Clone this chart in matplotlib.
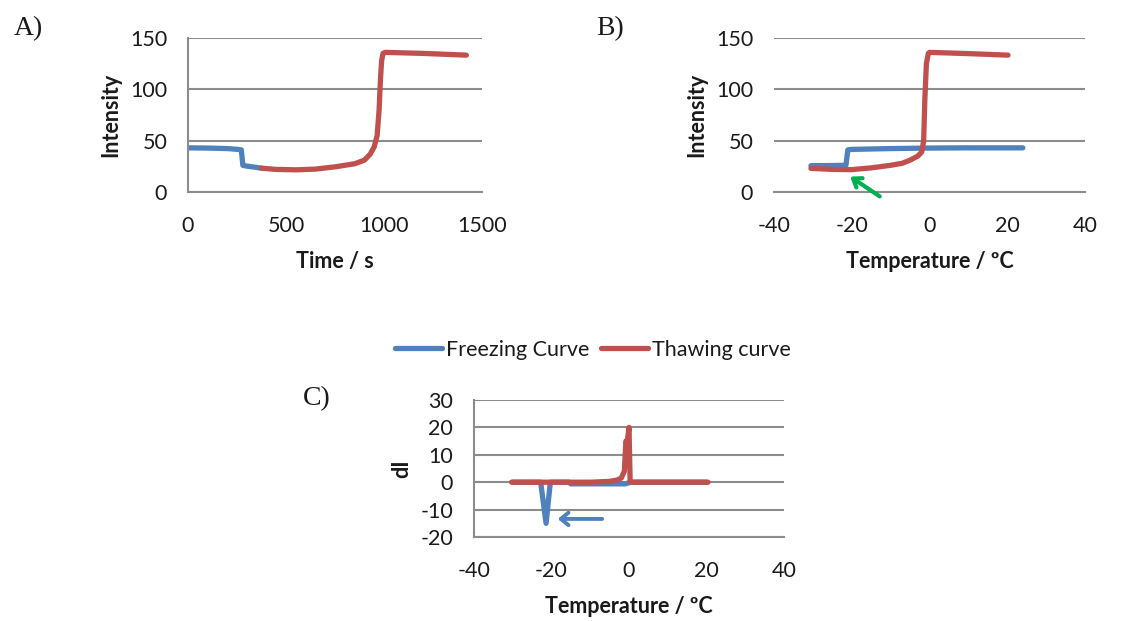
import numpy as np
import matplotlib
matplotlib.use("Agg")
import matplotlib.pyplot as plt

plt.rcParams['font.family'] = ['Lato', 'DejaVu Sans']
plt.rcParams['axes.unicode_minus'] = False

BLUE = '#4F81BD'
RED = '#C0504D'
GREEN = '#00B050'
GRID = '#8c8c8c'
TXT = '#1a1a1a'

# A) intensity vs time
a_freeze_time = [0, 100, 200, 255, 272, 280, 300, 340, 375]
a_freeze_int = [43, 42.8, 42.3, 41.5, 41, 26, 25.2, 24.2, 23.2]
a_thaw_time = [375, 450, 550, 650, 750, 850, 900, 930, 950, 965, 975, 982, 988, 995, 1005, 1200, 1420]
a_thaw_int = [23.2, 22.0, 21.6, 22.3, 24.5, 27.5, 31, 37, 44, 55, 80, 110, 128, 135, 136, 135, 133.3]

# B) intensity vs temperature
b_freeze_temp = [-30.5, -25, -21.5, -21, -20, -10, 0, 10, 24]
b_freeze_int = [25.6, 25.8, 26, 41, 41.5, 42.3, 42.8, 43, 43]
b_thaw_temp = [-30.5, -25, -20, -15, -10, -7, -5, -3, -2, -1.5, -1.2, -0.8, -0.3, 0, 10, 20.2]
b_thaw_int = [23, 22, 21.8, 23.5, 26, 28, 31, 35, 39, 50, 90, 125, 135, 136, 134.8, 133.3]

# C) derivative dI vs temperature
c_freeze_temp = [-30, -22.8, -21.4, -20.3, -15.5, -15, -1, 0.5, 20]
c_freeze_dI = [0, 0, -15, 0, 0, -0.6, -0.6, 0, 0]
c_thaw_temp = [-30.3, -10, -5, -3, -2, -1.2, -0.8, -0.5, 0, 0.3, 20.4]
c_thaw_dI = [0, 0, 0.3, 0.8, 1.5, 4, 15, 14, 20, 0, 0]

W, H = 1131, 621
fig = plt.figure(figsize=(W / 100, H / 100), dpi=100)

FS = 15.5


def px_axes(left, top, right, bottom):
    return fig.add_axes([left / W, 1 - bottom / H, (right - left) / W, (bottom - top) / H])


def style(ax, left_spine=True):
    for s in ['top', 'right']:
        ax.spines[s].set_visible(False)
    ax.spines['left'].set_visible(left_spine)
    for s in ['left', 'bottom']:
        ax.spines[s].set_color(GRID)
        ax.spines[s].set_linewidth(1.5)
    ax.grid(axis='y', color=GRID, linewidth=1.5)
    ax.set_axisbelow(True)
    ax.tick_params(length=0, labelsize=FS, labelcolor=TXT)
    ax.tick_params(axis='y', pad=15)
    ax.tick_params(axis='x', pad=17)


def labels(ax, xl, yl):
    ax.set_xlabel(xl, fontsize=FS, fontweight='bold', color=TXT, labelpad=11)
    ax.set_ylabel(yl, fontsize=FS, fontweight='bold', color=TXT, labelpad=6)


line_kw = dict(linewidth=3.8, solid_capstyle='round', solid_joinstyle='round')

axA = px_axes(188, 38, 482, 192)
style(axA)
lf, = axA.plot(a_freeze_time, a_freeze_int, color=BLUE, **line_kw)
lt, = axA.plot(a_thaw_time, a_thaw_int, color=RED, **line_kw)
axA.set_xlim(0, 1500)
axA.set_ylim(0, 150)
axA.set_xticks([0, 500, 1000, 1500])
axA.set_yticks([0, 50, 100, 150])
labels(axA, 'Time / s', 'Intensity')

axB = px_axes(774, 38, 1085, 192)
style(axB, left_spine=False)
axB.plot(b_freeze_temp, b_freeze_int, color=BLUE, **line_kw)
axB.plot(b_thaw_temp, b_thaw_int, color=RED, **line_kw)
axB.set_xlim(-40, 40)
axB.set_ylim(0, 150)
axB.set_xticks([-40, -20, 0, 20, 40])
axB.set_yticks([0, 50, 100, 150])
labels(axB, 'Temperature / ºC', 'Intensity')
axB.annotate('', xy=(-21, 16.5), xytext=(-12.2, -5.8), annotation_clip=False,
             arrowprops=dict(arrowstyle='->,head_length=0.55,head_width=0.4',
                             color=GREEN, lw=3))

axC = px_axes(474, 400, 784, 537)
style(axC)
axC.plot(c_freeze_temp, c_freeze_dI, color=BLUE, **line_kw)
axC.plot(c_thaw_temp, c_thaw_dI, color=RED, **line_kw)
axC.set_xlim(-40, 40)
axC.set_ylim(-20, 30)
axC.set_xticks([-40, -20, 0, 20, 40])
axC.set_yticks(np.arange(-20, 31, 10))
labels(axC, 'Temperature / ºC', 'dI')
axC.annotate('', xy=(-19.1, -13.4), xytext=(-6.2, -13.4), annotation_clip=False,
             arrowprops=dict(arrowstyle='->,head_length=0.55,head_width=0.45',
                             color=BLUE, lw=2.8))

fig.legend([lf, lt], ['Freezing Curve', 'Thawing curve'], loc='center',
           bbox_to_anchor=(593 / W, 1 - 350 / H), ncol=2, frameon=False,
           fontsize=FS, handlelength=2.2, handletextpad=0.2, columnspacing=0.5,
           labelcolor=TXT)

for label, x, y in [('A)', 28, 29), ('B)', 610, 29), ('C)', 317, 399)]:
    fig.text(x / W, 1 - y / H, label, family='Liberation Serif', fontsize=20,
             color=TXT, ha='center', va='center')

fig.savefig('out.png', dpi=100)
